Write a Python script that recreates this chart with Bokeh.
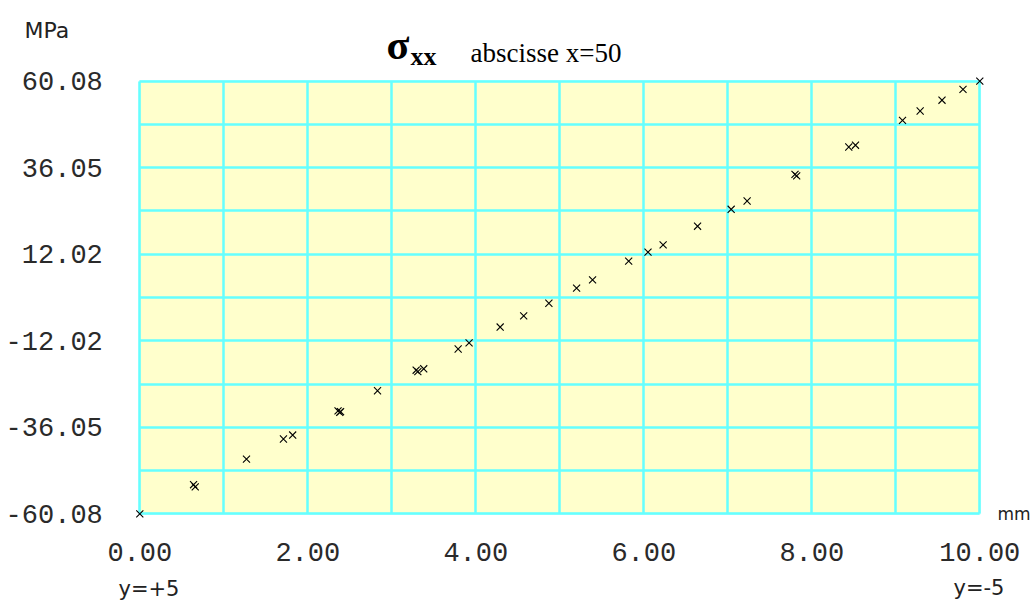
from bokeh.plotting import figure
from bokeh.models import FixedTicker, Label, Range1d, BoxAnnotation, Grid
from bokeh.embed import file_html
from bokeh.resources import INLINE

# data: position along the section (mm) and stress sigma_xx (MPa)
pos_mm = [0.00, 0.64, 0.66, 1.27, 1.71, 1.82, 2.36, 2.38, 2.39, 2.83,
          3.29, 3.31, 3.38, 3.79, 3.92, 4.29, 4.57, 4.87, 5.20, 5.39,
          5.82, 6.05, 6.23, 6.64, 7.04, 7.23, 7.80, 7.82, 8.44, 8.52,
          9.08, 9.29, 9.55, 9.80, 10.00]
sigma_mpa = [-60.08, -52.0, -52.6, -44.9, -39.3, -38.2, -31.5, -31.9, -31.7, -25.9,
             -20.2, -20.6, -19.8, -14.3, -12.6, -8.2, -5.1, -1.6, 2.6, 4.9,
             10.1, 12.6, 14.6, 19.8, 24.5, 26.8, 34.2, 33.8, 41.8, 42.3,
             49.2, 51.8, 54.8, 57.8, 60.08]

x_ticks = [0, 2, 4, 6, 8, 10]
x_tick_labels = ["0.00", "2.00", "4.00", "6.00", "8.00", "10.00"]
y_ticks = [-60.08, -36.05, -12.02, 12.02, 36.05, 60.08]
y_tick_labels = ["-60.08", "-36.05", "-12.02", "12.02", "36.05", "60.08"]
x_grid = [0, 1, 2, 3, 4, 5, 6, 7, 8, 9, 10]
y_grid = [-60.08, -48.064, -36.048, -24.032, -12.016, 0.0,
          12.016, 24.032, 36.048, 48.064, 60.08]

X0, X1 = x_ticks[0], x_ticks[-1]
Y0, Y1 = y_ticks[0], y_ticks[-1]

# canvas geometry (px): plotting box inside the canvas
W, H = 1031, 602
left_px, right_px, top_px, bottom_px = 139.3, 979.3, 80.7, 513.3
xpp = (right_px - left_px) / (X1 - X0)
ypp = (bottom_px - top_px) / (Y1 - Y0)
x_range = Range1d(X0 - left_px / xpp, X1 + (W - right_px) / xpp)
y_range = Range1d(Y0 - (H - bottom_px) / ypp, Y1 + top_px / ypp)

p = figure(width=W, height=H, output_backend="svg", toolbar_location=None,
           x_range=x_range, y_range=y_range,
           min_border_left=0, min_border_right=0, min_border_top=0,
           min_border_bottom=0)
p.background_fill_color = "white"
p.border_fill_color = "white"
p.outline_line_color = None

CYAN = "#66ffff"
p.add_layout(BoxAnnotation(left=X0, right=X1, bottom=Y0, top=Y1,
                           fill_color="#ffffcc", fill_alpha=1.0,
                           line_color=CYAN, line_width=2.5, level="image"))

has_cross = "cross_bounds" in Grid.properties()
p.xgrid.ticker = FixedTicker(ticks=x_grid)
p.ygrid.ticker = FixedTicker(ticks=y_grid)
for g in (p.xgrid[0], p.ygrid[0]):
    g.grid_line_color = CYAN
    g.grid_line_width = 2.5
if has_cross:
    p.xgrid[0].bounds = (X0, X1)
    p.xgrid[0].cross_bounds = (Y0, Y1)
    p.ygrid[0].bounds = (Y0, Y1)
    p.ygrid[0].cross_bounds = (X0, X1)
else:
    p.xgrid.visible = False
    p.ygrid.visible = False
    p.segment(x0=x_grid, x1=x_grid, y0=[Y0] * len(x_grid), y1=[Y1] * len(x_grid),
              line_color=CYAN, line_width=2.5)
    p.segment(x0=[X0] * len(y_grid), x1=[X1] * len(y_grid), y0=y_grid, y1=y_grid,
              line_color=CYAN, line_width=2.5)

for ax, ticks, labels in ((p.xaxis[0], x_ticks, x_tick_labels),
                          (p.yaxis[0], y_ticks, y_tick_labels)):
    ax.ticker = FixedTicker(ticks=ticks)
    ax.major_label_overrides = {t: l for t, l in zip(ticks, labels)}
    ax.axis_line_color = None
    ax.major_tick_line_color = None
    ax.minor_tick_line_color = None
    ax.major_label_text_font = "Liberation Mono"
    ax.major_label_text_font_size = "27px"
    ax.major_label_text_color = "#2a2a2a"
p.xaxis.fixed_location = Y0
p.yaxis.fixed_location = X0
p.xaxis.major_label_standoff = 23
p.yaxis.major_label_standoff = 31

p.scatter(pos_mm, sigma_mpa, marker="x", size=10, line_color="black", line_width=1.1)

def lab(px, py, text, font, size, style="normal", color="#222222"):
    # px: left edge, py: baseline, both in page pixels from the top-left corner
    p.add_layout(Label(x=px, y=H - py, x_units="screen", y_units="screen", text=text,
                       text_font=font, text_font_size=size, text_font_style=style,
                       text_align="left", text_baseline="alphabetic", text_color=color))

lab(24, 30, "MPa", "DejaVu Sans", "22px")
lab(997, 513, "mm", "DejaVu Sans", "17px")
lab(386, 44, "σ", "Liberation Serif", "42px", style="bold", color="black")
lab(410, 56, "xx", "Liberation Serif", "26px", style="bold", color="black")
lab(470, 52, "abscisse x=50", "Liberation Serif", "27px", color="black")
lab(118, 588, "y=+5", "DejaVu Sans", "21px")
lab(953, 587, "y=-5", "DejaVu Sans", "21px")

open("out.html", "w").write(file_html(p, INLINE))
